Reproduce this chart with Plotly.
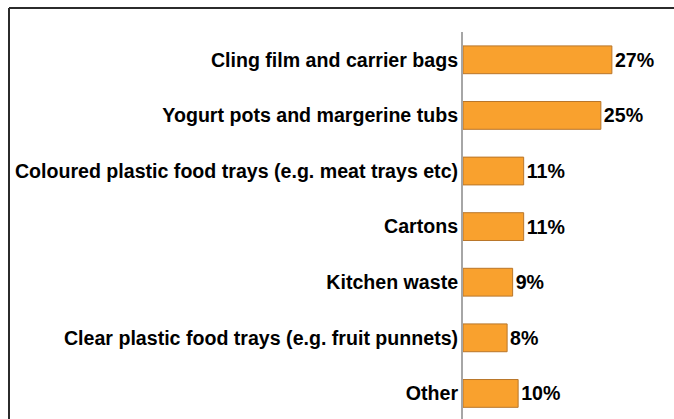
import plotly.graph_objects as go

categories = [
    "Cling film and carrier bags",
    "Yogurt pots and margerine tubs",
    "Coloured plastic food trays (e.g. meat trays etc)",
    "Cartons",
    "Kitchen waste",
    "Clear plastic food trays (e.g. fruit punnets)",
    "Other",
]
values = [27, 25, 11, 11, 9, 8, 10]
value_labels = ["27%", "25%", "11%", "11%", "9%", "8%", "10%"]

W, H = 674, 419
L, R, T, B = 463, 18, 32, 0
pw = W - L - R
ph = H - T - B
FONT = "Liberation Sans, Arial, sans-serif"
FS = 19.6

fig = go.Figure(go.Bar(
    x=values,
    y=categories,
    orientation="h",
    text=value_labels,
    textposition="outside",
    cliponaxis=False,
    textfont=dict(family=FONT, size=FS, color="#000000", weight="bold"),
    marker=dict(color="#F9A12E", line=dict(color="#B9762A", width=1)),
    hoverinfo="skip",
))

frame_y = 1 + (T - 8) / ph
frame_x = (9 - L) / pw

fig.update_layout(
    width=W, height=H,
    margin=dict(l=L, r=R, t=T, b=B, pad=0),
    paper_bgcolor="white",
    plot_bgcolor="white",
    bargap=0.5,
    showlegend=False,
    font=dict(family=FONT, size=FS, color="#000000"),
    xaxis=dict(range=[0, 35], visible=False, fixedrange=True),
    yaxis=dict(
        categoryorder="array", categoryarray=categories,
        range=[6.46, -0.5], fixedrange=True,
        showline=True, linecolor="#A6A6A6", linewidth=2,
        showgrid=False, zeroline=False,
        ticks="", ticklabelstandoff=-1,
        tickfont=dict(family=FONT, size=FS, color="#000000", weight="bold"),
    ),
    shapes=[
        dict(type="line", xref="paper", yref="paper",
             x0=frame_x, x1=frame_x,
             y0=frame_y, y1=-0.1,
             line=dict(color="#2b2b2b", width=2)),
        dict(type="line", xref="paper", yref="paper",
             x0=frame_x, x1=1.2,
             y0=frame_y, y1=frame_y,
             line=dict(color="#2b2b2b", width=2)),
    ],
)

fig.write_html(
    "out.html",
    config={"displayModeBar": False, "staticPlot": True},
    post_script="document.body.style.margin='0';document.body.style.overflow='hidden';",
)
